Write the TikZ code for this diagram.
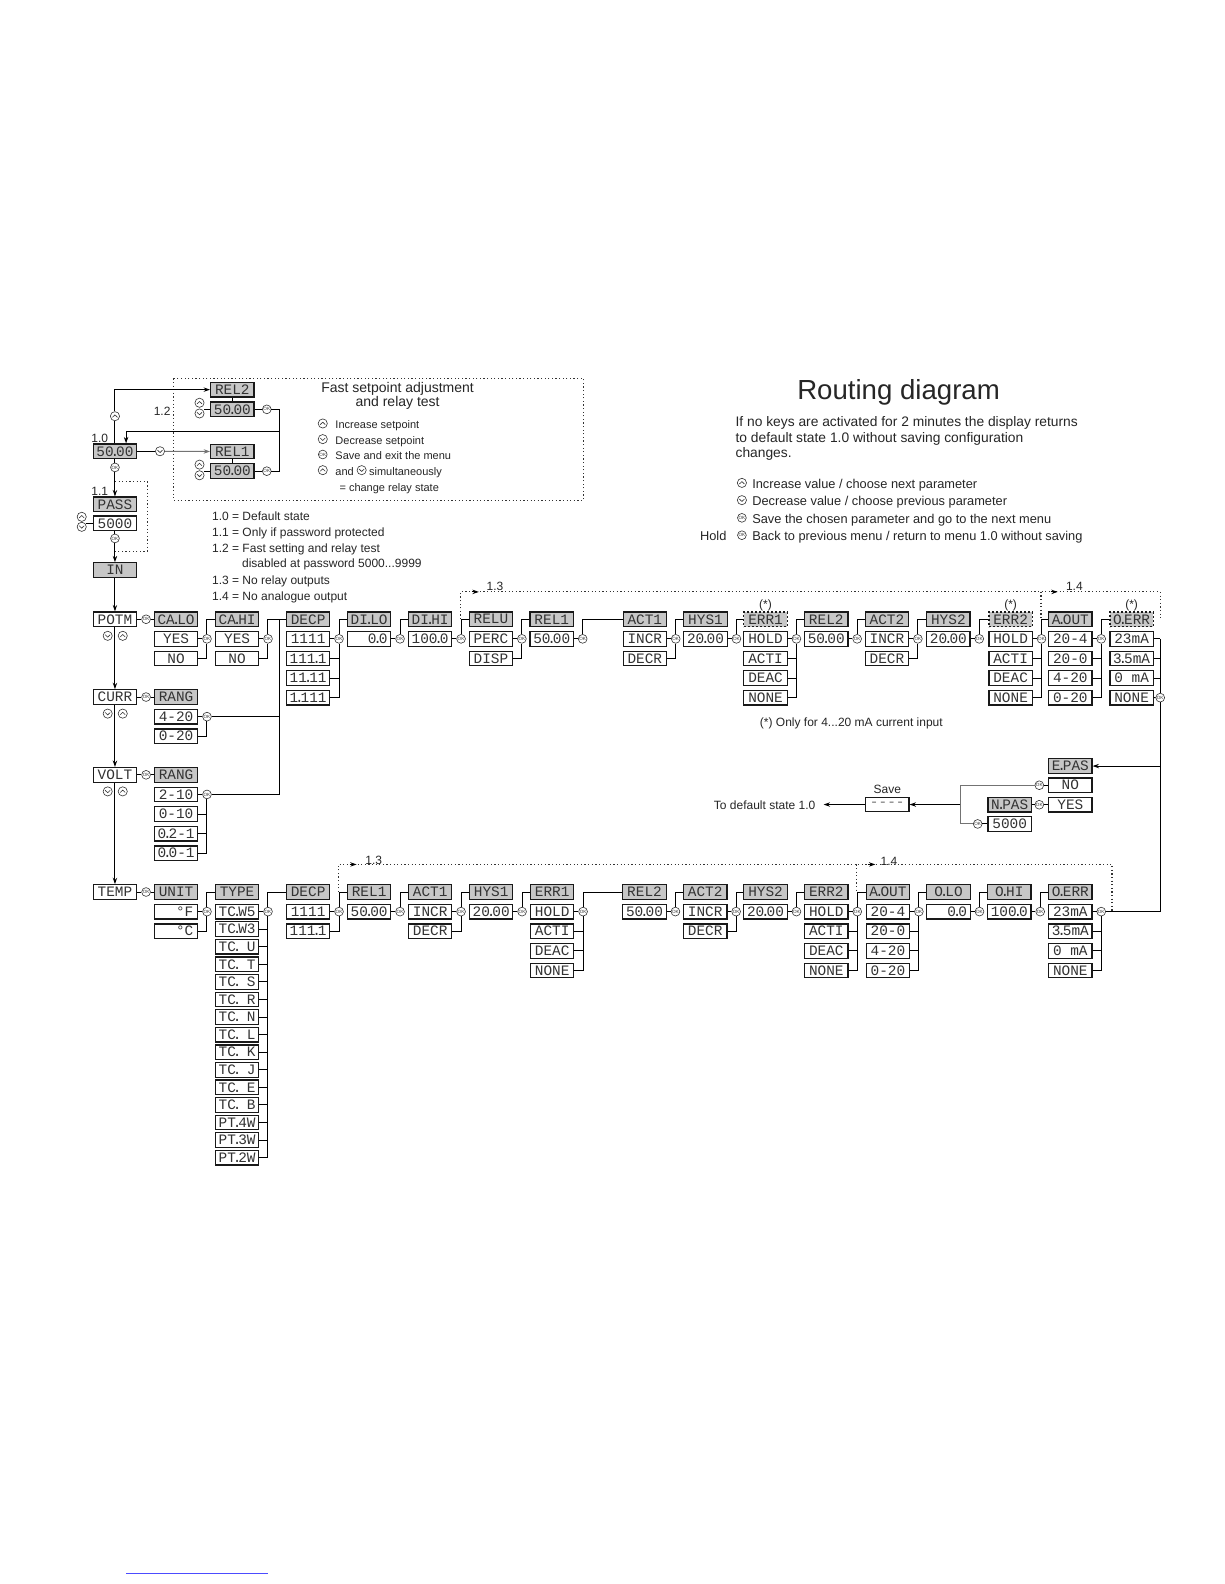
\documentclass[tikz,border=0pt]{standalone}
\usepackage{fontspec}
\setmainfont{Liberation Sans}
\newfontfamily\lcd{Liberation Mono}
\usetikzlibrary{arrows.meta,calc}
\newcommand\lcdp{\makebox[1.2pt]{.}}
\def\rowp{19.4}
\tikzset{
 lbox/.style={draw=black!90, line width=0.6pt, minimum width=21.7pt, minimum height=7.3pt, inner sep=0pt, font=\lcd\fontsize{7.2}{7.2}\selectfont, text=black!80},
 hd/.style={lbox, fill=black!22},
 op/.style={lbox, fill=white},
 hdd/.style={hd, dash pattern=on 1.2pt off 0.8pt},
 ln/.style={line width=0.5pt, draw=black},
 dln/.style={line width=0.6pt, dash pattern=on 0.6pt off 1.2pt, draw=black!80},
 arr/.style={-{Stealth[length=3.2pt,width=2.2pt]}},
 okc/.style={circle, draw=black!80, fill=white, line width=0.3pt, inner sep=0pt, minimum size=4.4pt, font=\fontsize{2.3}{2.3}\selectfont, text=black!80},
 key/.style={circle, draw=black!80, fill=white, line width=0.3pt, inner sep=0pt, minimum size=4.6pt},
 upk/.style={key, path picture={\draw[line width=0.3pt] ([xshift=-1.25pt,yshift=-0.55pt]path picture bounding box.center) -- ([yshift=0.65pt]path picture bounding box.center) -- ([xshift=1.25pt,yshift=-0.55pt]path picture bounding box.center);}},
 dnk/.style={key, path picture={\draw[line width=0.3pt] ([xshift=-1.25pt,yshift=0.55pt]path picture bounding box.center) -- ([yshift=-0.65pt]path picture bounding box.center) -- ([xshift=1.25pt,yshift=0.55pt]path picture bounding box.center);}},
 tx/.style={inner sep=0pt, text=black!85, text height=0.72em, text depth=0.2em},
 t6/.style={tx, font=\fontsize{6}{7}\selectfont},
 tsm/.style={tx, font=\fontsize{5.5}{6}\selectfont},
 tlg/.style={tx, font=\fontsize{6.4}{7}\selectfont},
 tpa/.style={tx, font=\fontsize{6.9}{7.5}\selectfont},
 tfs/.style={tx, font=\fontsize{7}{8}\selectfont},
}
\newcommand\mcol[6]{%
  \node[#4] (#1-0) at (#2,#3) {#5};
  \foreach \t [count=\i] in {#6} {\node[op] (#1-\i) at (#2,{#3+\i*\rowp}) {\t};}
}
\newcommand\mconn[3]{%
  \node[okc] (#1-ok) at ($(#1-1.east)+(8.5,0)$) {OK};
  \draw[ln] (#1-1.east) -- (#1-ok);
  \draw[ln] (#1-ok) |- (#3.west);
  \ifnum#2>1 \foreach \i in {2,...,#2} {\draw[ln] (#1-\i.east) -| (#1-ok);}\fi
}
\begin{document}
\begin{tikzpicture}[x=0.505pt,y=-0.505pt]
\fill[white] (0,0) rectangle (1212,1568);
\useasboundingbox (0,0) rectangle (1212,1568);

% ---------- titles and legends ----------
\node[tx, font=\fontsize{13.8}{15}\selectfont, anchor=base] (title) at (889.5,395.4) {Routing diagram};
\node[tpa, anchor=west] (pa1) at (727.8,417.5) {If no keys are activated for 2 minutes the display returns};
\node[tpa, anchor=west] (pa2) at (727.8,432.4) {to default state 1.0 without saving configuration};
\node[tpa, anchor=west] (pa3) at (727.8,447.3) {changes.};
\node[upk] (lg1k) at (734.4,478) {};
\node[tlg, anchor=west] (lg1) at (744.3,478) {Increase value / choose next parameter};
\node[dnk] (lg2k) at (734.4,495.1) {};
\node[tlg, anchor=west] (lg2) at (744.3,495.1) {Decrease value / choose previous parameter};
\node[okc] (lg3k) at (734.4,512.6) {OK};
\node[tlg, anchor=west] (lg3) at (744.3,512.6) {Save the chosen parameter and go to the next menu};
\node[tlg, anchor=east] (lg4h) at (719.5,529.8) {Hold};
\node[okc] (lg4k) at (734.4,529.8) {OK};
\node[tlg, anchor=west] (lg4) at (744.3,529.8) {Back to previous menu / return to menu 1.0 without saving};

% ---------- fast setpoint box ----------
\draw[dln] (171.6,374.6) rectangle (577.6,495.1);
\node[tfs] (fs1) at (393.6,383.5) {Fast setpoint adjustment};
\node[tfs] (fs2) at (393.6,397.7) {and relay test};
\node[upk] (fk1) at (319.5,419.2) {};
\node[tsm, anchor=west] (fl1) at (331.7,419.2) {Increase setpoint};
\node[dnk] (fk2) at (319.5,434.7) {};
\node[tsm, anchor=west] (fl2) at (331.7,434.7) {Decrease setpoint};
\node[okc] (fk3) at (319.5,449.9) {OK};
\node[tsm, anchor=west] (fl3) at (331.7,449.9) {Save and exit the menu};
\node[upk] (fk4) at (319.5,465.4) {};
\node[tsm, anchor=west] (fl4a) at (331.7,465.4) {and};
\node[dnk] (fk4b) at (358,465.4) {};
\node[tsm, anchor=west] (fl4b) at (365,465.4) {simultaneously};
\node[tsm, anchor=west] (fl5) at (335.7,480.9) {= change relay state};

\node[t6, anchor=west] (n1) at (209.6,510) {1.0 = Default state};
\node[t6, anchor=west] (n2) at (209.6,525.8) {1.1 = Only if password protected};
\node[t6, anchor=west] (n3) at (209.6,541.3) {1.2 = Fast setting and relay test};
\node[t6, anchor=west] (n4) at (239.3,556.8) {disabled at password 5000...9999};
\node[t6, anchor=west] (n5) at (209.6,573.3) {1.3 = No relay outputs};
\node[t6, anchor=west] (n6) at (209.6,589.2) {1.4 = No analogue output};

% ---------- top-left ----------
\node[hd] (d10) at (113.8,446.7) {50\lcdp 00};
\node[okc] (d10-ok) at (113.8,462.7) {OK};
\node[hd] (pass) at (113.8,499.2) {PASS};
\node[op] (pw) at (113.8,518) {5000};
\node[okc] (pw-ok) at (113.8,533) {OK};
\node[hd] (in) at (113.8,564.4) {IN};
\node[t6] (l10) at (98.8,432.4) {1.0};
\node[t6] (l11) at (98.8,485.2) {1.1};
\node[t6] (l12) at (160.5,406) {1.2};
\draw[ln] (d10) -- (d10-ok);
\draw[ln,arr] (d10-ok) -- (pass);
\draw[ln] (pw) -- (pw-ok);
\draw[ln,arr] (pw-ok) -- (in);
\coordinate (p1) at (113.8,477); \coordinate (p2) at (145.9,477);
\coordinate (p3) at (145.9,545.6); \coordinate (p4) at (113.8,545.6);
\draw[dln] (p1) -- (p2) -- (p3) -- (p4);
\node[upk] (pwu) at (80.9,511.6) {};
\node[dnk] (pwd) at (80.9,521.5) {};
\draw[ln] (pw.west) -- ++(-7,0) coordinate (pwl);

\node[hd] (rel2h) at (230,385.7) {REL2};
\node[hd] (rel2v) at (230,405.2) {50\lcdp 00};
\node[hd] (rel1h) at (230,447) {REL1};
\node[hd] (rel1v) at (230,466.4) {50\lcdp 00};
\draw[ln] (rel2h) -- (rel2v);
\draw[ln] (rel1h) -- (rel1v);
\node[upk] (r2u) at (197.5,398.7) {};
\node[dnk] (r2d) at (197.5,409.3) {};
\node[upk] (r1u) at (197.5,459.9) {};
\node[dnk] (r1d) at (197.5,470.5) {};
\draw[ln] (rel2v.west) -- ++(-6,0) coordinate (r2l);
\draw[ln] (rel1v.west) -- ++(-6,0) coordinate (r1l);
\node[upk] (k10u) at (113.8,412) {};
\node[dnk] (k10d) at (158.4,446.7) {};
\draw[ln] (d10) -- (k10u);
\draw[ln,arr] (k10u) |- (rel2h.west);
\draw[ln] (d10) -- (k10d);
\draw[ln,draw=black!55,arr] (k10d) -- (rel1h);
\node[okc] (r2ok) at (264.1,405.2) {OK};
\node[okc] (r1ok) at (264.1,466.4) {OK};
\draw[ln] (rel2v) -- (r2ok);
\draw[ln] (rel1v) -- (r1ok);
\coordinate (rj1) at (276.6,405.2); \coordinate (rj2) at (276.6,466.4);
\coordinate (rj3) at (276.6,426.8); \coordinate (rj4) at (124.8,426.8);
\draw[ln] (r2ok) -- (rj1) -- (rj2) -- (r1ok);
\draw[ln,arr] (rj3) -- (rj4) -- (rj4 |- d10.north);

% ---------- main column ----------
\node[op] (potm) at (113.8,613) {POTM};
\node[op] (curr) at (113.8,690) {CURR};
\node[op] (volt) at (113.8,767) {VOLT};
\node[op] (temp) at (113.8,883) {TEMP};
\draw[ln,arr] (in) -- (potm);
\draw[ln,arr] (potm) -- (curr);
\draw[ln,arr] (curr) -- (volt);
\draw[ln,arr] (volt) -- (temp);
\foreach \nm/\yy in {potm/629.4,curr/706.4,volt/783.4}{
  \node[dnk] (\nm-dk) at (106.6,\yy) {};
  \node[upk] (\nm-uk) at (121.5,\yy) {};
}
\foreach \nm/\yy in {potm/613,curr/690,volt/767,temp/883}{
  \node[okc] (\nm-ok) at (144.6,\yy) {OK};
}

% ---------- top row ----------
\mcol{t1}{174.3}{613}{hd}{CA\lcdp LO}{YES,NO}
\mcol{t2}{234.7}{613}{hd}{CA\lcdp HI}{YES,NO}
\mcol{t3}{305}{613}{hd}{DECP}{1111,111\lcdp 1,11\lcdp 11,1\lcdp 111}
\mcol{t4}{365.4}{613}{hd}{DI\lcdp LO}{\phantom{00}0\lcdp 0}
\mcol{t5}{425.8}{613}{hd}{DI\lcdp HI}{100\lcdp 0}
\mcol{t6}{486}{613}{hd}{RELU}{PERC,DISP}
\mcol{t7}{546.2}{613}{hd}{REL1}{50\lcdp 00}
\mcol{t8}{638.3}{613}{hd}{ACT1}{INCR,DECR}
\mcol{t9}{698.4}{613}{hd}{HYS1}{20\lcdp 00}
\mcol{t10}{757.8}{613}{hdd}{ERR1}{HOLD,ACTI,DEAC,NONE}
\mcol{t11}{817.9}{613}{hd}{REL2}{50\lcdp 00}
\mcol{t12}{878}{613}{hd}{ACT2}{INCR,DECR}
\mcol{t13}{938.8}{613}{hd}{HYS2}{20\lcdp 00}
\mcol{t14}{1000.4}{613}{hdd}{ERR2}{HOLD,ACTI,DEAC,NONE}
\mcol{t15}{1059.5}{613}{hd}{A\lcdp OUT}{20-4,20-0,4-20,0-20}
\mcol{t16}{1120.2}{613}{hdd}{O\lcdp ERR}{23mA,3\lcdp 5mA,0 mA,NONE}
\draw[ln] (potm) -- (potm-ok) -- (t1-0);
\mconn{t1}{2}{t2-0}
\mconn{t2}{2}{t3-0}
\mconn{t3}{4}{t4-0}
\mconn{t4}{1}{t5-0}
\mconn{t5}{1}{t6-0}
\mconn{t6}{2}{t7-0}
\mconn{t7}{1}{t8-0}
\mconn{t8}{2}{t9-0}
\mconn{t9}{1}{t10-0}
\mconn{t10}{4}{t11-0}
\mconn{t11}{1}{t12-0}
\mconn{t12}{2}{t13-0}
\mconn{t13}{1}{t14-0}
\mconn{t14}{4}{t15-0}
\mconn{t15}{4}{t16-0}
\node[okc] (t16-ok) at (1148.5,690.6) {OK};
\draw[ln] (t16-4.east) -- (t16-ok);
\foreach \i in {1,2,3}{\draw[ln] (t16-\i.east) -- (t16-\i.east -| t16-ok.center);}
\draw[ln] (t16-1.east -| t16-ok.center) -- (t16-ok);
\node[t6] (st1) at (757.8,596.8) {(*)};
\node[t6] (st2) at (1000.4,596.8) {(*)};
\node[t6] (st3) at (1120.2,596.8) {(*)};
\node[t6, anchor=west] (stn) at (751.9,713.6) {(*) Only for 4...20 mA current input};
% dotted bypass, top
\coordinate (da1) at (455.8,613); \coordinate (da2) at (455.8,585.9);
\coordinate (da3) at (1148.5,585.9); \coordinate (da4) at (1148.5,613);
\coordinate (da5) at (1030.4,585.9); \coordinate (da6) at (1030.4,613);
\draw[dln] (da1) -- (da2) -- (da3) -- (da4);
\draw[dln] (da5) -- (da6);
\coordinate (aa1) at (467,585.9); \coordinate (aa2) at (474,585.9);
\coordinate (aa3) at (1040,585.9); \coordinate (aa4) at (1047,585.9);
\draw[line width=0.5pt,arr] (aa1) -- (aa2);
\draw[line width=0.5pt,arr] (aa3) -- (aa4);
\node[t6] (l13a) at (490,579) {1.3};
\node[t6] (l14a) at (1063.5,579) {1.4};

% ---------- current / voltage ----------
\mcol{m1}{174.3}{690}{hd}{RANG}{4-20,0-20}
\mcol{v1}{174.3}{767}{hd}{RANG}{2-10,0-10,0\lcdp 2-1,0\lcdp 0-1}
\draw[ln] (curr) -- (curr-ok) -- (m1-0);
\draw[ln] (volt) -- (volt-ok) -- (v1-0);
\node[okc] (m1-ok) at ($(m1-1.east)+(8.5,0)$) {OK};
\node[okc] (v1-ok) at ($(v1-1.east)+(8.5,0)$) {OK};
\draw[ln] (m1-1) -- (m1-ok);
\draw[ln] (m1-2.east) -| (m1-ok);
\draw[ln] (v1-1) -- (v1-ok);
\foreach \i in {2,3,4}{\draw[ln] (v1-\i.east) -| (v1-ok);}
\coordinate (j1) at (276.6,613); \coordinate (j2) at (276.6,709.4); \coordinate (j3) at (276.6,786.4);
\draw[ln] (m1-ok) -- (j2);
\draw[ln] (v1-ok) -- (j3) -- (j1);

% ---------- temperature row ----------
\draw[ln] (temp) -- (temp-ok);
\mcol{b1}{174.3}{883}{hd}{UNIT}{\phantom{00}°F,\phantom{00}°C}
\draw[ln] (temp-ok) -- (b1-0);
\node[hd] (b2-0) at (234.7,883) {TYPE};
\foreach \t [count=\i] in {TC\lcdp W5,TC\lcdp W3,TC\lcdp~U,TC\lcdp~T,TC\lcdp~S,TC\lcdp~R,TC\lcdp~N,TC\lcdp~L,TC\lcdp~K,TC\lcdp~J,TC\lcdp~E,TC\lcdp~B,PT\lcdp 4W,PT\lcdp 3W,PT\lcdp 2W}
  {\node[op] (b2-\i) at (234.7,{902.4+(\i-1)*17.4}) {\t};}
\mcol{b3}{305}{883}{hd}{DECP}{1111,111\lcdp 1}
\mcol{b4}{365.4}{883}{hd}{REL1}{50\lcdp 00}
\mcol{b5}{425.8}{883}{hd}{ACT1}{INCR,DECR}
\mcol{b6}{486.2}{883}{hd}{HYS1}{20\lcdp 00}
\mcol{b7}{546.6}{883}{hd}{ERR1}{HOLD,ACTI,DEAC,NONE}
\mcol{b8}{638}{883}{hd}{REL2}{50\lcdp 00}
\mcol{b9}{698.1}{883}{hd}{ACT2}{INCR,DECR}
\mcol{b10}{757.8}{883}{hd}{HYS2}{20\lcdp 00}
\mcol{b11}{818}{883}{hd}{ERR2}{HOLD,ACTI,DEAC,NONE}
\mcol{b12}{879}{883}{hd}{A\lcdp OUT}{20-4,20-0,4-20,0-20}
\mcol{b13}{939}{883}{hd}{O\lcdp LO}{\phantom{00}0\lcdp 0}
\mcol{b14}{999.1}{883}{hd}{O\lcdp HI}{100\lcdp 0}
\mcol{b15}{1059.5}{883}{hd}{O\lcdp ERR}{23mA,3\lcdp 5mA,0 mA,NONE}
\mconn{b1}{2}{b2-0}
\mconn{b2}{15}{b3-0}
\mconn{b3}{2}{b4-0}
\mconn{b4}{1}{b5-0}
\mconn{b5}{2}{b6-0}
\mconn{b6}{1}{b7-0}
\mconn{b7}{4}{b8-0}
\mconn{b8}{1}{b9-0}
\mconn{b9}{2}{b10-0}
\mconn{b10}{1}{b11-0}
\mconn{b11}{4}{b12-0}
\mconn{b12}{4}{b13-0}
\mconn{b13}{1}{b14-0}
\mconn{b14}{1}{b15-0}
\node[okc] (b15-ok) at ($(b15-1.east)+(8.5,0)$) {OK};
\draw[ln] (b15-1) -- (b15-ok);
\foreach \i in {2,3,4}{\draw[ln] (b15-\i.east) -| (b15-ok);}
\draw[ln] (b15-ok) -| (t16-ok);
% dotted bypass, bottom
\coordinate (db1) at (335,883); \coordinate (db2) at (335,855.7);
\coordinate (db3) at (1100.8,855.7); \coordinate (db4) at (1100.8,902.4);
\coordinate (db5) at (848,855.7); \coordinate (db6) at (848,883);
\draw[dln] (db1) -- (db2) -- (db3) -- (db4);
\draw[dln] (db5) -- (db6);
\coordinate (ab1) at (346,855.7); \coordinate (ab2) at (353,855.7);
\coordinate (ab3) at (859.5,855.7); \coordinate (ab4) at (866.5,855.7);
\draw[line width=0.5pt,arr] (ab1) -- (ab2);
\draw[line width=0.5pt,arr] (ab3) -- (ab4);
\node[t6] (l13b) at (370,851) {1.3};
\node[t6] (l14b) at (880,851.6) {1.4};

% ---------- password / save ----------
\node[hd] (epas) at (1059.5,758.3) {E\lcdp PAS};
\node[op] (eno) at (1059.5,777.3) {NO};
\node[op] (eyes) at (1059.5,796.6) {YES};
\node[hd] (npas) at (999.5,796.6) {N\lcdp PAS};
\node[op] (npw) at (999.5,815.6) {5000};
\node[okc] (okno) at (1028.8,777.3) {OK};
\node[okc] (okyes) at (1028.8,796.6) {OK};
\node[okc] (oknp) at (967.8,815.6) {OK};
\node[op, text=black!55] (save) at (878.3,796.4) {----};
\node[t6] (savel) at (878.3,780.5) {Save};
\node[t6, anchor=east] (dft) at (807.5,796.4) {To default state 1.0};
\draw[ln,arr] (t16-ok) |- (epas.east);
\draw[ln] (eno) -- (okno);
\draw[ln] (eyes) -- (okyes) -- (npas);
\draw[ln] (npw) -- (oknp);
\coordinate (sj1) at (950.6,777.3); \coordinate (sj2) at (950.6,815.6); \coordinate (sj3) at (950.6,796.4);
\draw[ln,draw=black!55] (okno) -- (sj1) -- (sj2) -- (oknp);
\draw[ln,arr] (sj3) -- (save);
\coordinate (sout) at (815.3,796.4);
\draw[ln,arr] (save) -- (sout);

% link underline at page foot
\draw[line width=0.5pt, draw=blue!70] (125,1558) -- (265,1558);
\end{tikzpicture}
\end{document}
